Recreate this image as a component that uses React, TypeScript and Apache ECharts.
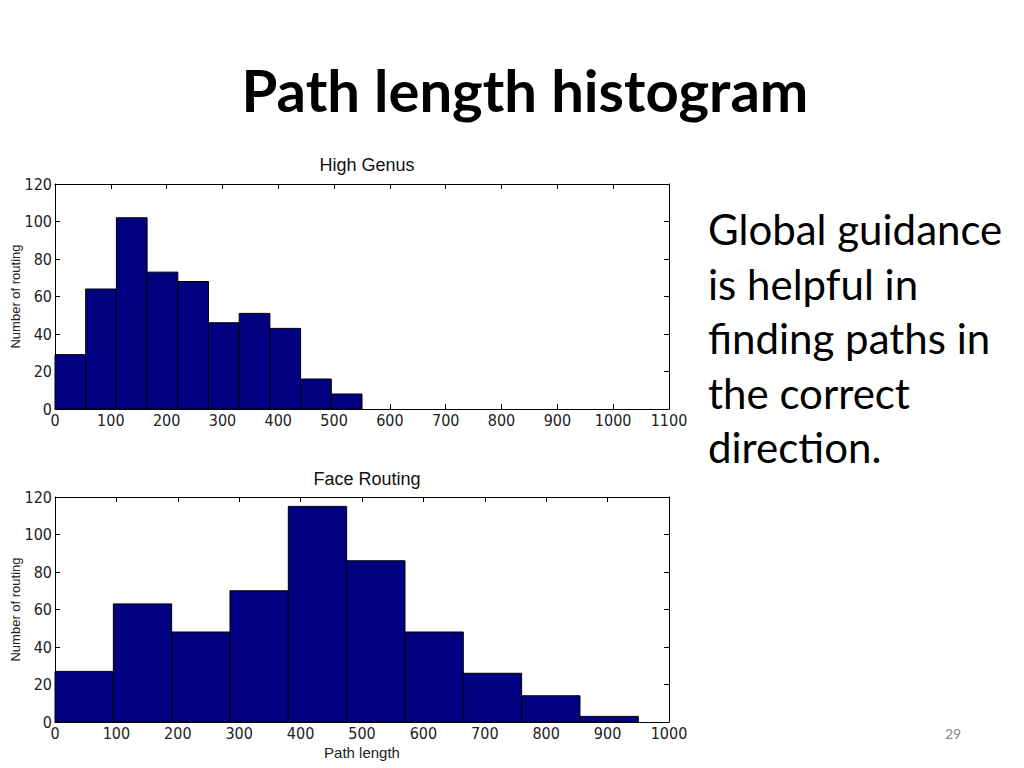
import React, { useEffect, useRef } from "react";
import * as echarts from "echarts";

// ---- Data ----
const highGenusBinWidth = 55;
const highGenusCounts = [29, 64, 102, 73, 68, 46, 51, 43, 16, 8];
const faceRoutingBinWidth = 95;
const faceRoutingCounts = [27, 63, 48, 70, 115, 86, 48, 26, 14, 3];
const slideTitle = "Path length histogram";
const sideText = ["Global guidance", "is helpful in", "finding paths in", "the correct", "direction."];
const pageNumber = "29";

const toBins = (counts: number[], w: number) =>
  counts.map((c, i) => [i * w, (i + 1) * w, c]);

const tickFont = {
  fontFamily: "'Liberation Sans Narrow', 'DejaVu Sans Condensed', 'Liberation Sans', sans-serif",
  fontSize: 16,
  color: "#222",
};
const plainFont = { fontFamily: "'Liberation Sans', Arial, sans-serif", color: "#222" };

export default function App() {
  const ref = useRef<HTMLDivElement>(null);
  useEffect(() => {
    if (!ref.current) return;
    const chart = echarts.init(ref.current, undefined, { renderer: "svg" });

    const renderItem = (params: any, api: any) => {
      const x0 = api.value(0);
      const x1 = api.value(1);
      const y = api.value(2);
      const p0 = api.coord([x0, 0]);
      const p1 = api.coord([x1, y]);
      return {
        type: "rect",
        shape: { x: p0[0], y: p1[1], width: p1[0] - p0[0], height: p0[1] - p1[1] },
        style: { fill: "#000080", stroke: "#000", lineWidth: 1 },
      };
    };

    const mkX = (grid: number, max: number, pos: "bottom" | "top", labels: boolean, name?: string) => ({
      type: "value",
      gridIndex: grid,
      min: 0,
      max,
      interval: 100,
      position: pos,
      name,
      nameLocation: "middle",
      nameGap: 23,
      nameMoveOverlap: false,
      nameTextStyle: { ...plainFont, fontSize: 15 },
      axisLine: { show: true, onZero: false, lineStyle: { color: "#000", width: 1 } },
      axisTick: { show: true, inside: true, length: 5, lineStyle: { color: "#000" } },
      axisLabel: { show: labels, ...tickFont, margin: 3, formatter: (v: number) => String(v) },
      splitLine: { show: false },
    });
    const mkY = (grid: number, pos: "left" | "right", labels: boolean, name?: string) => ({
      type: "value",
      gridIndex: grid,
      min: 0,
      max: 120,
      interval: 20,
      position: pos,
      name,
      nameLocation: "middle",
      nameGap: 33,
      nameMoveOverlap: false,
      nameTextStyle: { ...plainFont, fontSize: 13 },
      axisLine: { show: true, onZero: false, lineStyle: { color: "#000", width: 1 } },
      axisTick: { show: true, inside: true, length: 5, lineStyle: { color: "#000" } },
      axisLabel: { show: labels, ...tickFont, margin: 3, formatter: (v: number) => String(v) },
      splitLine: { show: false },
    });

    chart.setOption({
      animation: false,
      backgroundColor: "#fff",
      title: [
        {
          text: slideTitle,
          left: 520,
          top: 55,
          textAlign: "center",
          textStyle: { fontFamily: "Lato, 'Open Sans', sans-serif", fontWeight: "bold", fontSize: 58, color: "#000" },
        },
        {
          text: "High Genus",
          left: 362,
          top: 151,
          textAlign: "center",
          textStyle: { ...plainFont, fontSize: 18, fontWeight: "normal", color: "#111" },
        },
        {
          text: "Face Routing",
          left: 362,
          top: 465,
          textAlign: "center",
          textStyle: { ...plainFont, fontSize: 18, fontWeight: "normal", color: "#111" },
        },
      ],
      graphic: [
        ...sideText.map((t, i) => ({
          type: "text",
          left: 708,
          top: 208 + i * 54.5,
          style: { text: t, font: "42px Lato, 'Open Sans', sans-serif", fill: "#000" },
        })),
        {
          type: "text",
          left: 945,
          top: 726,
          style: { text: pageNumber, font: "14px Lato, 'Open Sans', sans-serif", fill: "#888" },
        },
      ],
      grid: [
        { left: 55, top: 184, width: 614, height: 225, outerBoundsMode: "none" },
        { left: 55, top: 497, width: 614, height: 225, outerBoundsMode: "none" },
      ],
      xAxis: [
        mkX(0, 1100, "bottom", true),
        mkX(0, 1100, "top", false),
        mkX(1, 1000, "bottom", true, "Path length"),
        mkX(1, 1000, "top", false),
      ],
      yAxis: [
        mkY(0, "left", true, "Number of routing"),
        mkY(0, "right", false),
        mkY(1, "left", true, "Number of routing"),
        mkY(1, "right", false),
      ],
      series: [
        {
          type: "custom",
          xAxisIndex: 0,
          yAxisIndex: 0,
          renderItem,
          encode: { x: [0, 1], y: 2 },
          data: toBins(highGenusCounts, highGenusBinWidth),
        },
        {
          type: "custom",
          xAxisIndex: 2,
          yAxisIndex: 2,
          renderItem,
          encode: { x: [0, 1], y: 2 },
          data: toBins(faceRoutingCounts, faceRoutingBinWidth),
        },
      ],
    });
    return () => chart.dispose();
  }, []);
  return (
    <div
      ref={ref}
      style={{ position: "absolute", left: 0, top: 0, width: 1024, height: 768 }}
    />
  );
}
